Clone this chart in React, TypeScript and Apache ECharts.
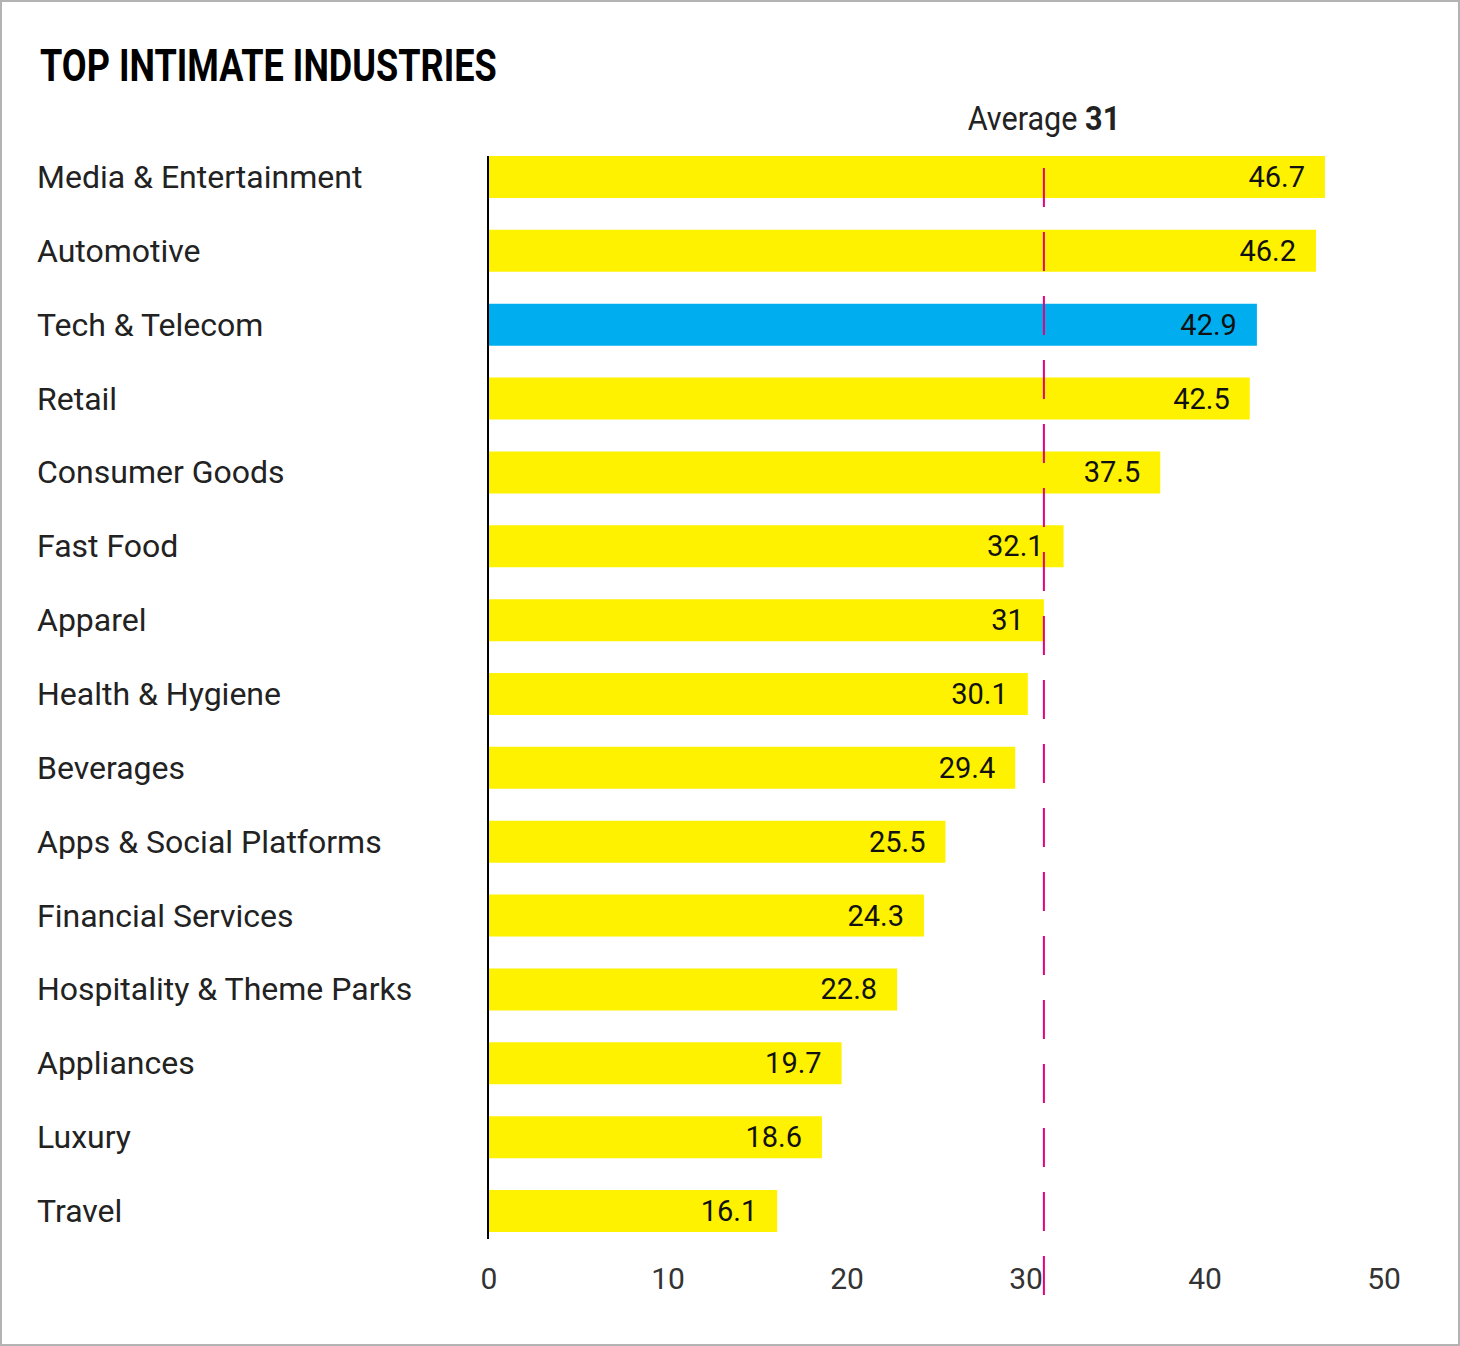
import React, { useEffect, useRef } from "react";
import * as echarts from "echarts";

const categories = [
  "Media & Entertainment",
  "Automotive",
  "Tech & Telecom",
  "Retail",
  "Consumer Goods",
  "Fast Food",
  "Apparel",
  "Health & Hygiene",
  "Beverages",
  "Apps & Social Platforms",
  "Financial Services",
  "Hospitality & Theme Parks",
  "Appliances",
  "Luxury",
  "Travel",
];
const values = [46.7, 46.2, 42.9, 42.5, 37.5, 32.1, 31, 30.1, 29.4, 25.5, 24.3, 22.8, 19.7, 18.6, 16.1];
const highlightCategory = "Tech & Telecom";
const averageValue = 31;
const xMin = 0;
const xMax = 50;
const xInterval = 10;
const titleText = "TOP INTIMATE INDUSTRIES";

const FONT = "Roboto, 'Liberation Sans', sans-serif";
const YELLOW = "#fff200";
const BLUE = "#00aeef";
const MAGENTA = "#e6007e";
const BAR_W = 42;

export default function App() {
  const ref = useRef<HTMLDivElement>(null);
  useEffect(() => {
    if (!ref.current) return;
    const chart = echarts.init(ref.current, undefined, { renderer: "svg" });
    chart.setOption({
      animation: false,
      backgroundColor: "#ffffff",
      textStyle: { fontFamily: FONT },
      grid: { left: 489, right: 76, top: 140, height: 1108, containLabel: false },
      xAxis: {
        type: "value",
        min: xMin,
        max: xMax,
        interval: xInterval,
        axisLine: { show: false },
        axisTick: { show: false },
        splitLine: { show: false },
        axisLabel: { fontSize: 30, color: "#333333", fontFamily: FONT, margin: 15 },
      },
      yAxis: {
        type: "category",
        data: categories,
        inverse: true,
        axisLine: { show: false },
        axisTick: { show: false },
        axisLabel: {
          fontSize: 32,
          color: "#222222",
          fontFamily: FONT,
          align: "left",
          margin: 452,
          padding: [5, 0, 0, 0],
        },
      },
      series: [
        {
          type: "bar",
          barWidth: BAR_W,
          data: values.map((v, i) => ({
            value: v,
            itemStyle: { color: categories[i] === highlightCategory ? BLUE : YELLOW },
          })),
          label: {
            show: true,
            position: "insideRight",
            distance: 20,
            fontSize: 29,
            color: "#111111",
            fontFamily: FONT,
          },
          z: 2,
        },
      ],
    });
    const avgX = chart.convertToPixel({ xAxisIndex: 0 }, averageValue) as number;
    const zeroX = chart.convertToPixel({ xAxisIndex: 0 }, xMin) as number;
    const firstY = chart.convertToPixel({ yAxisIndex: 0 }, categories[0]) as number;
    const lastY = chart.convertToPixel({ yAxisIndex: 0 }, categories[categories.length - 1]) as number;
    chart.setOption({
      graphic: [
        {
          type: "rect",
          shape: { x: 1, y: 1, width: 1458, height: 1344 },
          style: { fill: "none", stroke: "#b3b3b3", lineWidth: 2 },
          silent: true,
        },
        {
          type: "line",
          shape: { x1: zeroX - 1, y1: firstY - BAR_W / 2, x2: zeroX - 1, y2: lastY + BAR_W / 2 + 7 },
          style: { stroke: "#000000", lineWidth: 2 },
          z: 5,
        },
        {
          type: "text",
          x: 40,
          y: 66,
          scaleX: 0.82,
          style: {
            x: 0,
            y: 0,
            text: titleText,
            fill: "#000000",
            font: `bold 44px ${FONT}`,
            align: "left",
            verticalAlign: "middle",
          },
        },
        {
          type: "line",
          shape: { x1: avgX, y1: 168, x2: avgX, y2: 1296 },
          style: { stroke: MAGENTA, lineWidth: 2, lineDash: [39, 25] },
          z: 10,
        },
        {
          type: "text",
          x: avgX,
          y: 118,
          scaleX: 0.9,
          style: {
            x: 0,
            y: 0,
            text: `Average {b|${averageValue}}`,
            fill: "#222222",
            font: `34px ${FONT}`,
            align: "center",
            verticalAlign: "middle",
            rich: {
              b: { fontWeight: "bold", fontSize: 34, fontFamily: FONT, fill: "#222222" },
            },
          },
        },
      ],
    });
    return () => chart.dispose();
  }, []);
  return (
    <div style={{ position: "absolute", left: 0, top: 0, width: 1460, height: 1346 }}>
      <div ref={ref} style={{ width: 1460, height: 1346 }} />
    </div>
  );
}
